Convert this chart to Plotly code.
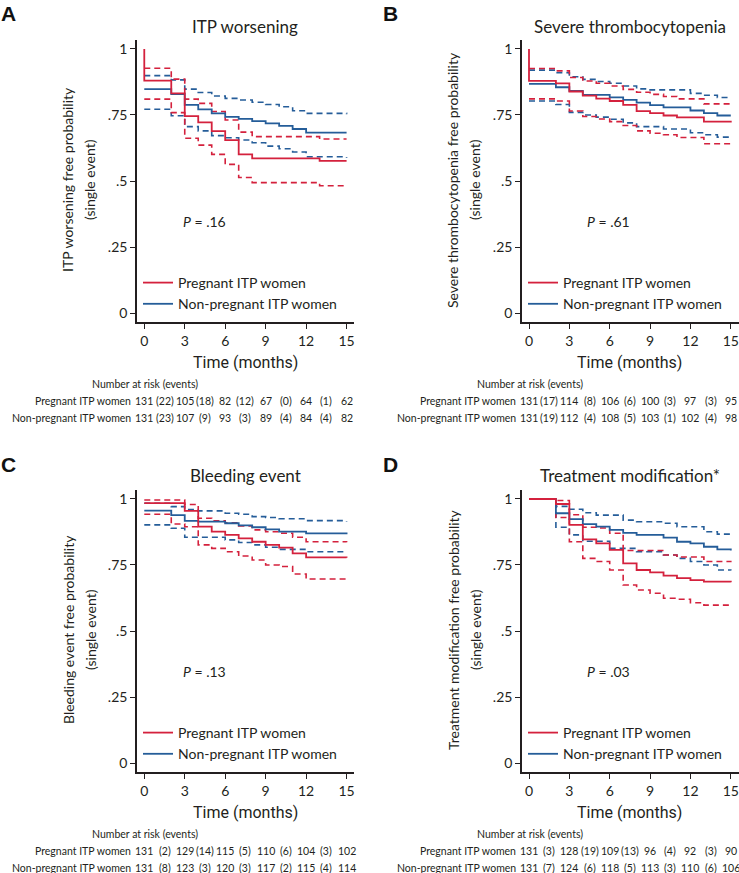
import plotly.graph_objects as go

W, H = 739, 873

# ---------------- DATA ----------------
times_a = [0, 2, 3, 4, 5, 6, 7, 8, 9, 10, 11, 12, 13, 15]
a_preg = [0.88, 0.832, 0.746, 0.722, 0.689, 0.655, 0.601, 0.586, 0.586, 0.586, 0.586, 0.586, 0.576, 0.576]
a_preg_hi = [0.927, 0.886, 0.81, 0.794, 0.763, 0.731, 0.685, 0.668, 0.668, 0.668, 0.668, 0.668, 0.659, 0.659]
a_preg_lo = [0.81, 0.759, 0.662, 0.636, 0.601, 0.563, 0.513, 0.494, 0.494, 0.494, 0.494, 0.494, 0.482, 0.482]
a_non = [0.848, 0.829, 0.788, 0.771, 0.756, 0.743, 0.735, 0.727, 0.718, 0.709, 0.697, 0.683, 0.683, 0.683]
a_non_hi = [0.899, 0.883, 0.848, 0.835, 0.822, 0.813, 0.807, 0.798, 0.79, 0.781, 0.766, 0.756, 0.756, 0.753]
a_non_lo = [0.772, 0.747, 0.706, 0.69, 0.672, 0.664, 0.655, 0.645, 0.632, 0.622, 0.61, 0.592, 0.592, 0.588]

times_b = [0, 2, 3, 4, 5, 6, 7, 8, 9, 10, 11, 12, 13, 14, 15]
b_preg = [0.879, 0.87, 0.839, 0.823, 0.812, 0.803, 0.788, 0.765, 0.757, 0.748, 0.741, 0.741, 0.725, 0.725, 0.722]
b_preg_hi = [0.926, 0.917, 0.892, 0.879, 0.87, 0.86, 0.847, 0.836, 0.828, 0.82, 0.811, 0.811, 0.792, 0.792, 0.79]
b_preg_lo = [0.811, 0.803, 0.765, 0.744, 0.735, 0.725, 0.71, 0.69, 0.681, 0.675, 0.665, 0.665, 0.641, 0.641, 0.637]
b_non = [0.868, 0.855, 0.841, 0.826, 0.826, 0.817, 0.807, 0.797, 0.787, 0.779, 0.779, 0.767, 0.757, 0.748, 0.748]
b_non_hi = [0.92, 0.91, 0.895, 0.885, 0.877, 0.87, 0.86, 0.849, 0.845, 0.845, 0.845, 0.832, 0.825, 0.816, 0.814]
b_non_lo = [0.803, 0.79, 0.76, 0.75, 0.742, 0.734, 0.72, 0.706, 0.706, 0.697, 0.697, 0.683, 0.675, 0.666, 0.664]

times_c = [0, 2, 3, 4, 5, 6, 7, 8, 9, 10, 11, 12, 13, 14, 15]
c_preg = [0.984, 0.984, 0.955, 0.895, 0.876, 0.864, 0.851, 0.838, 0.826, 0.816, 0.794, 0.779, 0.779, 0.779, 0.777]
c_preg_hi = [0.996, 0.996, 0.979, 0.927, 0.917, 0.91, 0.898, 0.883, 0.876, 0.87, 0.855, 0.838, 0.838, 0.838, 0.836]
c_preg_lo = [0.942, 0.905, 0.895, 0.826, 0.813, 0.80, 0.784, 0.769, 0.75, 0.744, 0.716, 0.697, 0.697, 0.697, 0.695]
c_non = [0.956, 0.939, 0.917, 0.914, 0.914, 0.908, 0.90, 0.893, 0.885, 0.876, 0.876, 0.87, 0.87, 0.87, 0.866]
c_non_hi = [0.984, 0.971, 0.96, 0.955, 0.955, 0.946, 0.942, 0.933, 0.93, 0.925, 0.925, 0.918, 0.918, 0.918, 0.915]
c_non_lo = [0.902, 0.889, 0.855, 0.855, 0.855, 0.845, 0.835, 0.826, 0.817, 0.809, 0.809, 0.80, 0.80, 0.80, 0.797]

times_d = [0, 2, 3, 4, 5, 6, 7, 8, 9, 10, 11, 12, 13, 14, 15]
d_preg = [1.0, 0.981, 0.902, 0.847, 0.832, 0.807, 0.756, 0.731, 0.722, 0.71, 0.70, 0.693, 0.687, 0.687, 0.685]
d_preg_hi = [1.0, 0.994, 0.94, 0.893, 0.89, 0.87, 0.805, 0.805, 0.805, 0.788, 0.78, 0.78, 0.763, 0.763, 0.76]
d_preg_lo = [1.0, 0.93, 0.838, 0.775, 0.763, 0.731, 0.674, 0.655, 0.643, 0.624, 0.62, 0.607, 0.598, 0.598, 0.596]
d_non = [1.0, 0.946, 0.924, 0.905, 0.895, 0.883, 0.872, 0.864, 0.864, 0.854, 0.838, 0.832, 0.819, 0.809, 0.805]
d_non_hi = [1.0, 0.972, 0.961, 0.948, 0.939, 0.939, 0.92, 0.914, 0.914, 0.908, 0.895, 0.895, 0.876, 0.867, 0.865]
d_non_lo = [1.0, 0.893, 0.864, 0.84, 0.84, 0.813, 0.813, 0.80, 0.80, 0.788, 0.775, 0.763, 0.75, 0.731, 0.729]

panel_titles = ["ITP worsening", "Severe thrombocytopenia", "Bleeding event", "Treatment modification*"]
panel_letters = ["A", "B", "C", "D"]
ytitles = ["ITP worsening free probability", "Severe thrombocytopenia free probability",
           "Bleeding event free probability", "Treatment modification free probability"]
pvalues = ["<i>P</i> = .16", "<i>P</i> = .61", "<i>P</i> = .13", "<i>P</i> = .03"]
group_names = ["Pregnant ITP women", "Non-pregnant ITP women"]

risk_preg = [
    ["131", "(22)", "105", "(18)", "82", "(12)", "67", "(0)", "64", "(1)", "62"],
    ["131", "(17)", "114", "(8)", "106", "(6)", "100", "(3)", "97", "(3)", "95"],
    ["131", "(2)", "129", "(14)", "115", "(5)", "110", "(6)", "104", "(3)", "102"],
    ["131", "(3)", "128", "(19)", "109", "(13)", "96", "(4)", "92", "(3)", "90"],
]
risk_non = [
    ["131", "(23)", "107", "(9)", "93", "(3)", "89", "(4)", "84", "(4)", "82"],
    ["131", "(19)", "112", "(4)", "108", "(5)", "103", "(1)", "102", "(4)", "98"],
    ["131", "(8)", "123", "(3)", "120", "(3)", "117", "(2)", "115", "(4)", "114"],
    ["131", "(7)", "124", "(6)", "118", "(5)", "113", "(3)", "110", "(6)", "106"],
]
xtick_vals = [0, 3, 6, 9, 12, 15]
ytick_vals = [0, 0.25, 0.5, 0.75, 1]
ytick_text = ["0", ".25", ".5", ".75", "1"]

# ---------------- STYLE / LAYOUT ----------------
RED = "#d4213d"
BLUE = "#255d99"
TXT = "#231f20"
FONT = "Lato, 'Open Sans', sans-serif"

panels = [
    dict(t=times_a, s=[a_preg, a_preg_hi, a_preg_lo, a_non, a_non_hi, a_non_lo], start_red=True),
    dict(t=times_b, s=[b_preg, b_preg_hi, b_preg_lo, b_non, b_non_hi, b_non_lo], start_red=True),
    dict(t=times_c, s=[c_preg, c_preg_hi, c_preg_lo, c_non, c_non_hi, c_non_lo], start_red=False),
    dict(t=times_d, s=[d_preg, d_preg_hi, d_preg_lo, d_non, d_non_hi, d_non_lo], start_red=False),
]

# pixel boxes for each panel plot area: (left, right, top, bottom)
boxes = [(137, 354, 40, 322), (522, 739, 40, 322), (137, 354, 490, 772), (522, 739, 490, 772)]
xranges = [[-0.54, 15.55], [-0.52, 15.61], [-0.54, 15.55], [-0.52, 15.61]]
yrange = [-0.034, 1.034]


def px(xp):
    return xp / W


def py(yp):
    return 1 - yp / H


fig = go.Figure()
layout = dict(width=W, height=H, margin=dict(l=0, r=0, t=0, b=0),
              paper_bgcolor="white", plot_bgcolor="white",
              font=dict(family=FONT, color=TXT, size=14), showlegend=True)
annotations = []

for i, p in enumerate(panels):
    xa = "x" if i == 0 else f"x{i+1}"
    ya = "y" if i == 0 else f"y{i+1}"
    lg = "legend" if i == 0 else f"legend{i+1}"
    t = p["t"]
    preg, preg_hi, preg_lo, non, non_hi, non_lo = p["s"]
    for ser, col in [(non_hi, BLUE), (non_lo, BLUE), (preg_hi, RED), (preg_lo, RED)]:
        fig.add_trace(go.Scatter(x=t, y=ser, mode="lines", line=dict(color=col, width=1.6, dash="6px,4px", shape="hv"),
                                 xaxis=xa, yaxis=ya, showlegend=False, hoverinfo="skip"))
    tx_p = ([0] + t) if p["start_red"] else t
    ty_p = ([1.0] + preg) if p["start_red"] else preg
    fig.add_trace(go.Scatter(x=t, y=non, mode="lines", line=dict(color=BLUE, width=1.8, shape="hv"),
                             xaxis=xa, yaxis=ya, name=group_names[1], legend=lg, legendrank=2))
    fig.add_trace(go.Scatter(x=tx_p, y=ty_p, mode="lines", line=dict(color=RED, width=1.8, shape="hv"),
                             xaxis=xa, yaxis=ya, name=group_names[0], legend=lg, legendrank=1))

    l, r, tp, bt = boxes[i]
    axkey_x = "xaxis" if i == 0 else f"xaxis{i+1}"
    axkey_y = "yaxis" if i == 0 else f"yaxis{i+1}"
    layout[axkey_x] = dict(domain=[px(l), min(px(r), 1.0)], range=xranges[i], anchor=ya,
                           showline=True, linecolor=TXT, linewidth=1.6, ticks="outside", ticklen=5,
                           tickwidth=1.4, tickcolor=TXT, tickvals=xtick_vals, showgrid=False, zeroline=False,
                           tickfont=dict(size=14, color=TXT), fixedrange=True)
    layout[axkey_y] = dict(domain=[py(bt), py(tp)], range=yrange, anchor=xa,
                           showline=True, linecolor=TXT, linewidth=1.6, ticks="outside", ticklen=5,
                           tickwidth=1.4, tickcolor=TXT, tickvals=ytick_vals, ticktext=ytick_text,
                           showgrid=False, zeroline=False, tickfont=dict(size=14, color=TXT), fixedrange=True)
    layout[lg] = dict(x=px(l + 1), y=py(tp + 227), xanchor="left", yanchor="top",
                      bgcolor="rgba(0,0,0,0)", font=dict(size=14, color=TXT), tracegroupgap=0,
                      itemwidth=30, traceorder="normal")

    xc_data = 7.5
    annotations.append(dict(x=xc_data, xref=xa, y=py(tp - 14), yref="paper", text=panel_titles[i],
                            showarrow=False, font=dict(size=17, color=TXT), xanchor="center", yanchor="middle"))
    annotations.append(dict(x=px(l - 129 if i % 2 == 0 else l - 132), xref="paper", y=py(tp - 26), yref="paper",
                            text=f"<b>{panel_letters[i]}</b>", showarrow=False,
                            font=dict(size=21, color="#111", family="'Liberation Sans', Arial, sans-serif"),
                            xanchor="center", yanchor="middle"))
    ymid = (tp + bt) / 2 - 1
    annotations.append(dict(x=px(l - 69), xref="paper", y=py(ymid), yref="paper", text=ytitles[i],
                            textangle=-90, showarrow=False, font=dict(size=14, color=TXT),
                            xanchor="center", yanchor="middle"))
    annotations.append(dict(x=px(l - 47), xref="paper", y=py(ymid), yref="paper", text="(single event)",
                            textangle=-90, showarrow=False, font=dict(size=14, color=TXT),
                            xanchor="center", yanchor="middle"))
    annotations.append(dict(x=4.5 if i % 2 == 0 else 5.9, xref=xa, y=0.345, yref=ya, text=pvalues[i],
                            showarrow=False, font=dict(size=14, color=TXT), xanchor="center", yanchor="middle"))
    annotations.append(dict(x=xc_data, xref=xa, y=py(bt + 40), yref="paper", text="Time (months)",
                            showarrow=False, font=dict(size=16, color=TXT,
                                                       family="'Liberation Sans Narrow', 'Roboto', sans-serif"),
                            xanchor="center", yanchor="middle"))
    annotations.append(dict(x=px(l + 8), xref="paper", y=py(bt + 62), yref="paper", text="Number at risk (events)",
                            showarrow=False, font=dict(size=10.5, color=TXT), xanchor="center", yanchor="middle"))
    for row, (lab, cells) in enumerate([(group_names[0], risk_preg[i]), (group_names[1], risk_non[i])]):
        yrow = bt + 79 + row * 17
        annotations.append(dict(x=px(l - 4), xref="paper", y=py(yrow), yref="paper", text=lab,
                                showarrow=False, font=dict(size=10.5, color=TXT), xanchor="right", yanchor="middle"))
        for k, c in enumerate(cells):
            annotations.append(dict(x=1.5 * k, xref=xa, y=py(yrow), yref="paper", text=c,
                                    showarrow=False, font=dict(size=10.5, color=TXT),
                                    xanchor="center", yanchor="middle"))

layout["annotations"] = annotations
fig.update_layout(**layout)
fig.write_html("out.html", config={"displayModeBar": False},
               post_script="document.body.style.margin='0px';document.body.style.overflow='hidden';")
